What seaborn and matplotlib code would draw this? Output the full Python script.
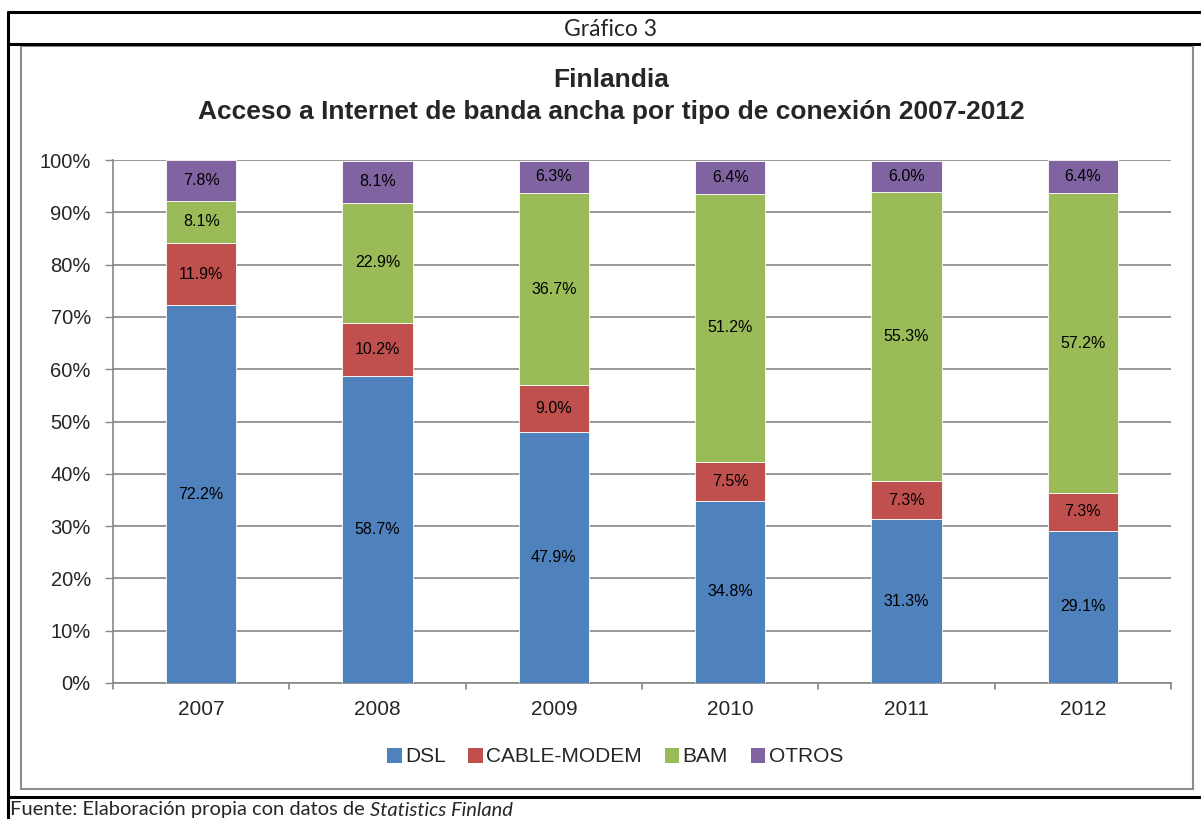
import numpy as np
import pandas as pd
import matplotlib
matplotlib.use("Agg")
import matplotlib.pyplot as plt
from matplotlib.patches import Rectangle
from matplotlib.lines import Line2D
import seaborn as sns

# Broadband access shares by connection type, Finland
years = ["2007", "2008", "2009", "2010", "2011", "2012"]
dsl = [72.2, 58.7, 47.9, 34.8, 31.3, 29.1]
cable_modem = [11.9, 10.2, 9.0, 7.5, 7.3, 7.3]
bam = [8.1, 22.9, 36.7, 51.2, 55.3, 57.2]
otros = [7.8, 8.1, 6.3, 6.4, 6.0, 6.4]

series_names = ["DSL", "CABLE-MODEM", "BAM", "OTROS"]
series_values = [dsl, cable_modem, bam, otros]
series_colors = ["#4F81BD", "#C0504D", "#9BBB59", "#8064A2"]
y_ticks = [0, 10, 20, 30, 40, 50, 60, 70, 80, 90, 100]

df = pd.DataFrame({"year": np.repeat(years, len(series_names)),
                   "tipo": series_names * len(years),
                   "valor": np.array(series_values).T.ravel()})

sns.set_theme(style="white")
plt.rcParams["font.family"] = ["Liberation Sans", "DejaVu Sans"]

W, H = 1201, 819
fig = plt.figure(figsize=(W / 100, H / 100), dpi=100)
fig.patch.set_facecolor("white")


def fx(px):
    return px / W


def fy(py):
    return 1 - py / H


# Plot area
ax = fig.add_axes([fx(113), fy(683), fx(1171) - fx(113), fy(160) - fy(683)])

bottom = np.zeros(len(years))
for name, color in zip(series_names, series_colors):
    sub = df[df["tipo"] == name]
    sns.barplot(data=sub, x="year", y="valor", order=years, color=color,
                width=0.4, bottom=bottom.copy(), edgecolor="white",
                linewidth=0.6, saturation=1, ax=ax, zorder=3, errorbar=None)
    bottom += sub["valor"].to_numpy()

for cont, vals in zip(ax.containers, series_values):
    ax.bar_label(cont, labels=[f"{v:.1f}%" for v in vals], label_type="center",
                 fontsize=11.5, color="black")

ax.set_xlim(-0.5, len(years) - 0.5)
ax.set_ylim(0, 100)
ax.set_yticks(y_ticks)
ax.set_yticklabels([f"{t}%" for t in y_ticks], fontsize=14.5)
ax.set_xlabel("")
ax.set_ylabel("")
ax.tick_params(axis="x", labelsize=15, length=0, pad=12)
ax.tick_params(axis="y", length=6, width=1, color="#868686", pad=10,
               left=True)
ax.yaxis.grid(True, color="#868686", linewidth=1.2, zorder=0)
ax.set_axisbelow(True)
for side in ["top", "right"]:
    ax.spines[side].set_visible(False)
for side in ["left", "bottom"]:
    ax.spines[side].set_color("#868686")
    ax.spines[side].set_linewidth(1.2)

# Category separators on the x axis
for b in np.arange(-0.5, len(years), 1.0):
    ax.plot([b, b], [0, -1.2], color="#868686", lw=1.2, clip_on=False,
            transform=ax.transData, zorder=4)

# Titles
fig.text(fx(611), fy(80), "Finlandia", ha="center", va="center",
         fontsize=19, fontweight="bold")
fig.text(fx(611), fy(112), "Acceso a Internet de banda ancha por tipo de conexión 2007-2012",
         ha="center", va="center", fontsize=19, fontweight="bold")

# Legend
handles = [Rectangle((0, 0), 1, 1, facecolor=c, edgecolor="none")
           for c in series_colors]
fig.legend(handles, series_names, loc="center", ncol=4,
           bbox_to_anchor=(fx(615), fy(757)), frameon=False, fontsize=15,
           handlelength=0.7, handleheight=0.7, handletextpad=0.15,
           columnspacing=1.1, borderaxespad=0)

# Document frame and captions
black = dict(color="black", lw=2.2, transform=fig.transFigure)
fig.add_artist(Line2D([fx(8), fx(1201)], [fy(12), fy(12)], **black))
fig.add_artist(Line2D([fx(8), fx(1201)], [fy(44), fy(44)], **black))
fig.add_artist(Line2D([fx(8), fx(1201)], [fy(797), fy(797)], **black))
fig.add_artist(Line2D([fx(8), fx(8)], [fy(12), fy(819)], **black))
fig.add_artist(Rectangle((fx(21), fy(789)), fx(1193) - fx(21), fy(46) - fy(789),
                         transform=fig.transFigure, fill=False,
                         edgecolor="#8c8c8c", lw=1.5))

caption_font = ["Lato", "DejaVu Sans"]
fig.text(fx(610), fy(29), "Gráfico 3", ha="center", va="center",
         fontsize=16.5, family=caption_font)
src = fig.text(fx(10), fy(810), "Fuente: Elaboración propia con datos de ",
               ha="left", va="center", fontsize=14.5, family=caption_font)
fig.canvas.draw()
src_box = src.get_window_extent(renderer=fig.canvas.get_renderer())
fig.text(src_box.x1 / W, fy(810), "Statistics Finland", ha="left",
         va="center", fontsize=14.5, style="italic", family=caption_font)

fig.savefig("out.png", dpi=100, facecolor="white")
